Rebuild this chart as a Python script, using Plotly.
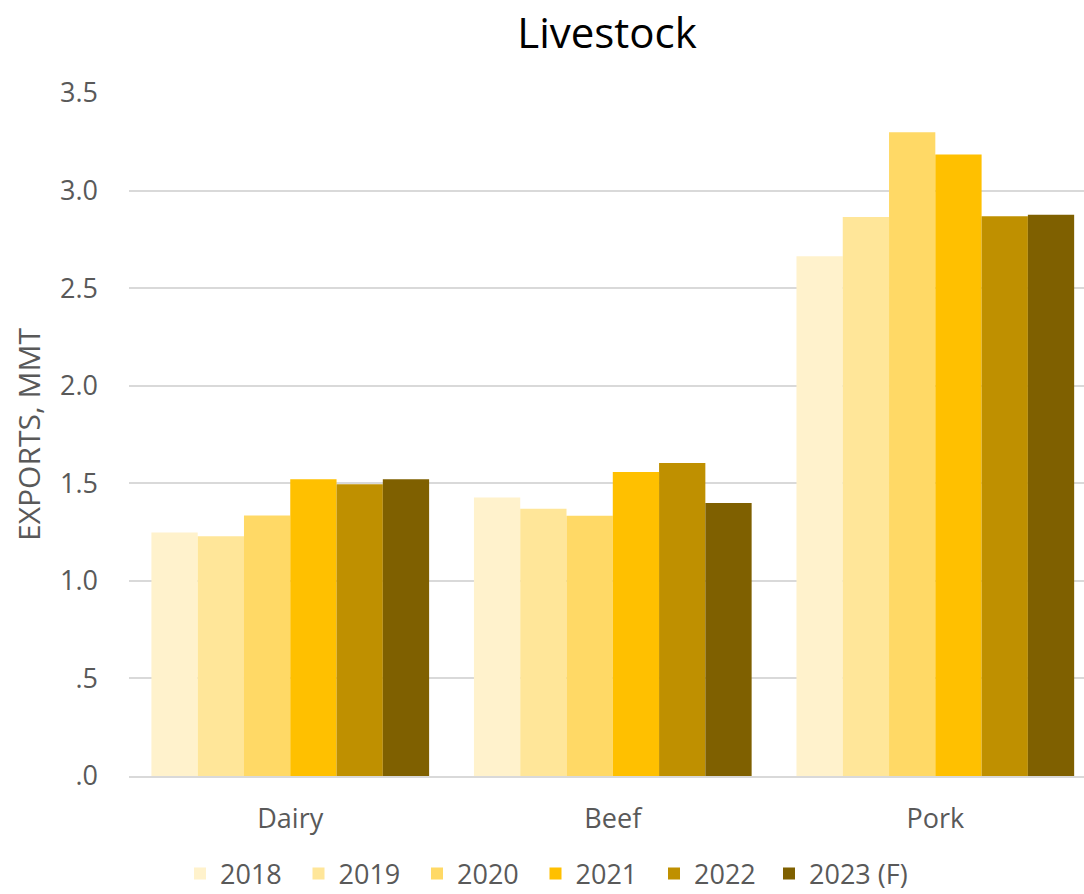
import plotly.graph_objects as go

categories = ["Dairy", "Beef", "Pork"]
years = ["2018", "2019", "2020", "2021", "2022", "2023 (F)"]
v2018 = [1.248, 1.427, 2.664]
v2019 = [1.229, 1.369, 2.864]
v2020 = [1.335, 1.333, 3.299]
v2021 = [1.521, 1.558, 3.185]
v2022 = [1.495, 1.604, 2.869]
v2023 = [1.521, 1.399, 2.876]
series = [v2018, v2019, v2020, v2021, v2022, v2023]
colors = ["#FFF2CC", "#FFE699", "#FFD966", "#FFC000", "#BF9000", "#7F6000"]
tick_vals = [0, 0.5, 1.0, 1.5, 2.0, 2.5, 3.0, 3.5]
tick_text = [".0", ".5", "1.0", "1.5", "2.0", "2.5", "3.0", "3.5"]

fig = go.Figure()
for i, (name, vals, col) in enumerate(zip(years, series, colors)):
    fig.add_trace(go.Bar(x=categories, y=vals, name=name, marker_color=col,
                         marker_line_width=0,
                         legend="legend2" if i == len(years) - 1 else "legend"))

font = "Open Sans"
leg_common = dict(orientation="h", xref="container", xanchor="left",
                  yref="container", y=20 / 894, yanchor="middle",
                  font=dict(family=font, size=27, color="#595959"),
                  itemwidth=30, traceorder="normal", bgcolor="rgba(0,0,0,0)")
fig.update_layout(
    width=1084, height=894,
    margin=dict(l=128.5, r=0, t=93, b=118),
    paper_bgcolor="white", plot_bgcolor="white",
    barmode="group", bargap=0.139, bargroupgap=0,
    title=dict(text="Livestock", x=0.56, xref="container", xanchor="center",
               y=1 - 33 / 894, yref="container", yanchor="middle",
               font=dict(family=font, size=42, color="#000000")),
    font=dict(family=font, size=27, color="#595959"),
    showlegend=True,
    legend=dict(x=180 / 1084, entrywidth=73.5, entrywidthmode="pixels",
                **leg_common),
    legend2=dict(x=769 / 1084, **leg_common),
    xaxis=dict(range=[-0.5, 2.461], showgrid=False, showline=True,
               linecolor="#D9D9D9", linewidth=2, ticks="",
               ticklabelstandoff=18,
               tickfont=dict(family=font, size=27, color="#595959"),
               fixedrange=True),
    yaxis=dict(range=[0, 3.5], tickvals=tick_vals, ticktext=tick_text,
               showgrid=True, gridcolor="#D9D9D9", gridwidth=2,
               zeroline=False, showline=False, ticks="",
               ticklabelstandoff=30,
               tickfont=dict(family=font, size=27, color="#595959"),
               title=dict(text="EXPORTS, MMT", standoff=10,
                          font=dict(family=font, size=30, color="#595959")),
               fixedrange=True),
)

fig.write_html("out.html")
